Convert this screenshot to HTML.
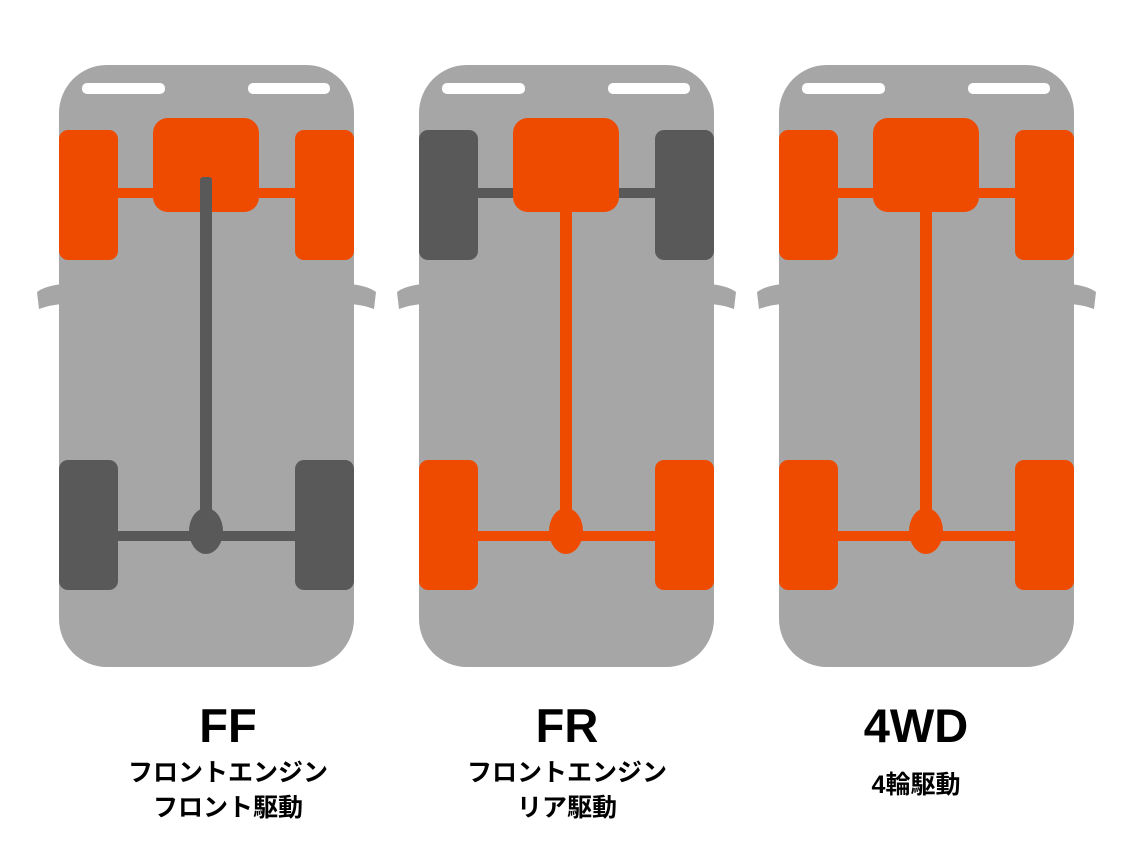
<!DOCTYPE html>
<html><head><meta charset="utf-8"><style>
html,body{margin:0;padding:0;background:#fff;}
svg{display:block;}
</style></head><body>
<svg width="1129" height="850" viewBox="0 0 1129 850" xmlns="http://www.w3.org/2000/svg">
<defs>
<g id="body">
  <path d="M37,292 Q45,286 62,284 L62,304 Q50,305 39,309 Z" fill="#A6A6A6"/>
  <path d="M376,292 Q368,286 351,284 L351,304 Q363,305 374,309 Z" fill="#A6A6A6"/>
  <rect x="59" y="65" width="295" height="602" rx="48" fill="#A6A6A6"/>
  <rect x="82" y="83" width="83" height="11" rx="5" fill="#fff"/>
  <rect x="248" y="83" width="82" height="11" rx="5" fill="#fff"/>
</g>
</defs>
<g>
  <use href="#body"/>
  <rect x="110" y="188" width="195" height="10" fill="#EE4B00"/>
  <rect x="59" y="130" width="59" height="130" rx="9" fill="#EE4B00"/>
  <rect x="295" y="130" width="59" height="130" rx="9" fill="#EE4B00"/>
  <rect x="153" y="118" width="106" height="94" rx="15" fill="#EE4B00"/>
  <rect x="110" y="531" width="195" height="10" fill="#595959"/>
  <rect x="200" y="177" width="12" height="360" rx="3" fill="#595959"/>
  <ellipse cx="206" cy="531" rx="17" ry="23" fill="#595959"/>
  <rect x="59" y="460" width="59" height="130" rx="9" fill="#595959"/>
  <rect x="295" y="460" width="59" height="130" rx="9" fill="#595959"/>
</g>
<g transform="translate(360,0)">
  <use href="#body"/>
  <rect x="110" y="188" width="195" height="10" fill="#595959"/>
  <rect x="59" y="130" width="59" height="130" rx="9" fill="#595959"/>
  <rect x="295" y="130" width="59" height="130" rx="9" fill="#595959"/>
  <rect x="200" y="190" width="12" height="345" fill="#EE4B00"/>
  <rect x="153" y="118" width="106" height="94" rx="15" fill="#EE4B00"/>
  <rect x="110" y="531" width="195" height="10" fill="#EE4B00"/>
  <ellipse cx="206" cy="531" rx="17" ry="23" fill="#EE4B00"/>
  <rect x="59" y="460" width="59" height="130" rx="9" fill="#EE4B00"/>
  <rect x="295" y="460" width="59" height="130" rx="9" fill="#EE4B00"/>
</g>
<g transform="translate(720,0)">
  <use href="#body"/>
  <rect x="110" y="188" width="195" height="10" fill="#EE4B00"/>
  <rect x="59" y="130" width="59" height="130" rx="9" fill="#EE4B00"/>
  <rect x="295" y="130" width="59" height="130" rx="9" fill="#EE4B00"/>
  <rect x="200" y="190" width="12" height="345" fill="#EE4B00"/>
  <rect x="153" y="118" width="106" height="94" rx="15" fill="#EE4B00"/>
  <rect x="110" y="531" width="195" height="10" fill="#EE4B00"/>
  <ellipse cx="206" cy="531" rx="17" ry="23" fill="#EE4B00"/>
  <rect x="59" y="460" width="59" height="130" rx="9" fill="#EE4B00"/>
  <rect x="295" y="460" width="59" height="130" rx="9" fill="#EE4B00"/>
</g>
<g font-family="'Liberation Sans','Noto Sans CJK JP',sans-serif" font-weight="bold" fill="#000" text-anchor="middle">
  <text x="228" y="742" font-size="47">FF</text>
  <text x="228" y="781" font-size="25">フロントエンジン</text>
  <text x="228" y="816" font-size="25">フロント駆動</text>
  <text x="567" y="742" font-size="47">FR</text>
  <text x="567" y="781" font-size="25">フロントエンジン</text>
  <text x="567" y="816" font-size="25">リア駆動</text>
  <text x="916" y="742" font-size="47">4WD</text>
  <text x="916" y="793" font-size="25">4輪駆動</text>
</g>
</svg>
</body></html>
